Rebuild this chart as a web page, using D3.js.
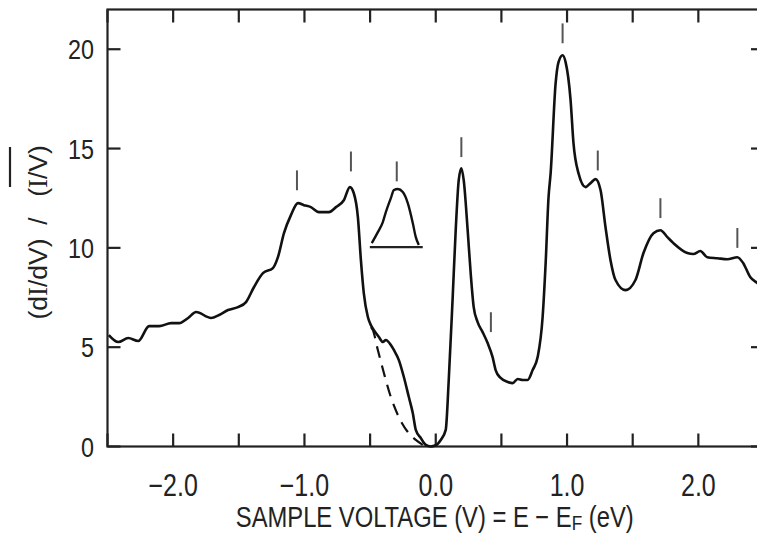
<!DOCTYPE html>
<html>
<head>
<meta charset="utf-8">
<script src="https://cdn.jsdelivr.net/npm/d3@7"></script>
<style>
  body { margin: 0; background: #fff; }
  svg { display: block; overflow: hidden; }
  text { font-family: "Liberation Sans", Arial, sans-serif; fill: #222; }
</style>
</head>
<body>
<svg width="757" height="533"></svg>
<script>
// main spectrum, (dI/dV)/(I/V) against sample voltage
const voltage = [-2.49, -2.418, -2.342, -2.266, -2.183, -2.106, -2.015, -1.954, -1.886, -1.825,
  -1.711, -1.65, -1.582, -1.506, -1.445, -1.384, -1.316, -1.24, -1.202, -1.156,
  -1.103, -1.049, -1.004, -0.951, -0.89, -0.814, -0.76, -0.70, -0.654, -0.624,
  -0.593, -0.57, -0.548, -0.517, -0.494, -0.471, -0.433, -0.403, -0.38, -0.342,
  -0.319, -0.281, -0.243, -0.205, -0.175, -0.152, -0.114, -0.076, -0.04, 0.0,
  0.038, 0.076, 0.099, 0.129, 0.152, 0.175, 0.195, 0.213, 0.243, 0.266,
  0.289, 0.319, 0.357, 0.395, 0.433, 0.456, 0.494, 0.548, 0.586, 0.624,
  0.662, 0.70, 0.738, 0.776, 0.814, 0.837, 0.859, 0.875, 0.913, 0.935,
  0.966, 0.989, 1.027, 1.049, 1.087, 1.141, 1.179, 1.217, 1.255, 1.293,
  1.331, 1.369, 1.445, 1.521, 1.582, 1.658, 1.711, 1.764, 1.81, 1.916,
  1.962, 2.015, 2.068, 2.144, 2.221, 2.297, 2.342, 2.395, 2.449, 2.5];
const conductance = [5.61, 5.26, 5.46, 5.31, 6.06, 6.06, 6.21, 6.21, 6.47, 6.77,
  6.47, 6.62, 6.87, 7.02, 7.27, 8.03, 8.73, 8.98, 9.53, 10.74,
  11.65, 12.25, 12.15, 12.05, 11.8, 11.8, 12.05, 12.4, 13.06, 12.75,
  11.55, 9.38, 7.72, 6.52, 6.11, 5.86, 5.51, 5.26, 5.36, 5.11,
  4.86, 4.35, 3.5, 2.49, 1.69, 0.84, 0.43, 0.08, 0.0, 0.06,
  0.33, 0.84, 3.35, 7.52, 10.89, 13.41, 14.01, 13.41, 10.89, 8.73,
  7.02, 6.26, 5.76, 5.21, 4.5, 3.85, 3.45, 3.25, 3.19, 3.4,
  3.35, 3.35, 3.85, 4.5, 6.52, 9.23, 12.55, 13.76, 18.29, 19.35,
  19.7, 19.35, 17.43, 15.27, 13.76, 13.06, 13.26, 13.46, 12.91, 11.04,
  9.38, 8.38, 7.87, 8.38, 9.74, 10.74, 10.89, 10.54, 10.24, 9.74,
  9.69, 9.84, 9.53, 9.48, 9.43, 9.53, 9.23, 8.53, 8.23, 8.0];

// dashed background curve below the shoulder
const dashVoltage = [-0.494, -0.479, -0.441, -0.395, -0.342, -0.281, -0.213, -0.152, -0.099];
const dashValue = [6.01, 5.86, 4.86, 3.7, 2.49, 1.48, 0.73, 0.33, 0.08];

// small inset: shoulder after background subtraction
const insetVoltage = [-0.487, -0.441, -0.403, -0.38, -0.342, -0.319, -0.289, -0.251, -0.213, -0.175, -0.152, -0.129];
const insetValue = [10.24, 10.79, 11.3, 11.8, 12.5, 12.91, 12.96, 12.81, 12.25, 11.25, 10.54, 10.14];
const insetBase = { from: -0.502, to: -0.099, value: 10.04 };

// peak markers: x position and lower end of the short bar
const markerVoltage = [-1.057, -0.646, -0.297, 0.195, 0.42, 0.966, 1.234, 1.711, 2.297];
const markerBottom = [12.9, 13.85, 13.35, 14.57, 5.76, 20.3, 13.9, 11.5, 10.0];
const markerLength = 1.0;

const xTicks = [-2.5, -2.0, -1.5, -1.0, -0.5, 0.0, 0.5, 1.0, 1.5, 2.0, 2.5];
const xTickLabels = [-2.0, -1.0, 0.0, 1.0, 2.0];
const yTicks = [0, 5, 10, 15, 20];

const svg = d3.select("svg");
const box = { left: 107.5, right: 764, top: 9.5, bottom: 446.5 };
const squeeze = 0.82; // the original lettering is a narrow grotesque

const x = d3.scaleLinear().domain([-2.5, 2.5]).range([box.left, box.right]);
const y = d3.scaleLinear().domain([0, 22]).range([box.bottom, box.top]);

svg.append("rect").attr("width", 757).attr("height", 533).attr("fill", "#fff");

const frame = svg.append("g").attr("stroke", "#222").attr("stroke-width", 2.2).attr("fill", "none");
frame.append("rect")
    .attr("x", box.left).attr("y", box.top)
    .attr("width", box.right - box.left).attr("height", box.bottom - box.top);

// ticks point inward on all four sides
const tickLen = 13;
xTicks.forEach(t => {
    frame.append("line").attr("x1", x(t)).attr("x2", x(t)).attr("y1", box.bottom).attr("y2", box.bottom - tickLen);
    frame.append("line").attr("x1", x(t)).attr("x2", x(t)).attr("y1", box.top).attr("y2", box.top + tickLen);
});
yTicks.forEach(t => {
    frame.append("line").attr("x1", box.left).attr("x2", box.left + tickLen).attr("y1", y(t)).attr("y2", y(t));
    frame.append("line").attr("x1", box.right).attr("x2", box.right - tickLen).attr("y1", y(t)).attr("y2", y(t));
});

function narrow(px, py, size, anchor) {
    return svg.append("g")
        .attr("transform", `translate(${px},${py}) scale(${squeeze},1)`)
        .append("text")
        .attr("text-anchor", anchor)
        .attr("font-size", size);
}

const fmt = d => (d < 0 ? "\u2212" : "") + Math.abs(d).toFixed(1);
xTickLabels.forEach(d => narrow(x(d), 496, 30.5, "middle").text(fmt(d)));
yTicks.forEach(d => narrow(94, y(d) + 10, 28.5, "end").text(d));

// x axis title
const xt = narrow((box.left + box.right) / 2 - 1, 527, 29, "middle");
xt.append("tspan").text("SAMPLE VOLTAGE (V) = E \u2212 E");
xt.append("tspan").attr("font-size", 21).attr("dy", 3).text("F");
xt.append("tspan").attr("dy", -3).text(" (eV)");

// y axis title, rotated, with overline on (I/V)
const yg = svg.append("g").attr("transform", "translate(47,0) rotate(-90)");
const parts = [
    { c: 279, txt: ["(d", "I", "/dV)"] },
    { c: 221, txt: ["/"] },
    { c: 171, txt: ["(", "I", "/V)"] }
];
parts.forEach(p => {
    const t = yg.append("text")
        .attr("x", -p.c).attr("y", 0)
        .attr("text-anchor", "middle").attr("font-size", 26.5);
    p.txt.forEach(s => {
        const sp = t.append("tspan").text(s);
        if (s === "I") sp.style("font-family", "'Liberation Serif', serif");
    });
});
yg.append("line")
    .attr("x1", -187).attr("x2", -147)
    .attr("y1", -37).attr("y2", -37)
    .attr("stroke", "#222").attr("stroke-width", 2.2);

const line = d3.line().x(d => x(d[0])).y(d => y(d[1])).curve(d3.curveMonotoneX);

svg.append("path")
    .datum(d3.zip(dashVoltage, dashValue))
    .attr("d", line)
    .attr("fill", "none").attr("stroke", "#111").attr("stroke-width", 2.2)
    .attr("stroke-dasharray", "12,8");

svg.append("path")
    .datum(d3.zip(voltage, conductance))
    .attr("d", line)
    .attr("fill", "none").attr("stroke", "#111").attr("stroke-width", 2.6)
    .attr("stroke-linejoin", "round");

svg.append("path")
    .datum(d3.zip(insetVoltage, insetValue))
    .attr("d", line)
    .attr("fill", "none").attr("stroke", "#111").attr("stroke-width", 2.4);
svg.append("line")
    .attr("x1", x(insetBase.from)).attr("x2", x(insetBase.to))
    .attr("y1", y(insetBase.value)).attr("y2", y(insetBase.value))
    .attr("stroke", "#222").attr("stroke-width", 2.2);

svg.append("g").selectAll("line").data(d3.zip(markerVoltage, markerBottom)).join("line")
    .attr("x1", d => x(d[0])).attr("x2", d => x(d[0]))
    .attr("y1", d => y(d[1])).attr("y2", d => y(d[1] + markerLength))
    .attr("stroke", "#555").attr("stroke-width", 2);
</script>
</body>
</html>
